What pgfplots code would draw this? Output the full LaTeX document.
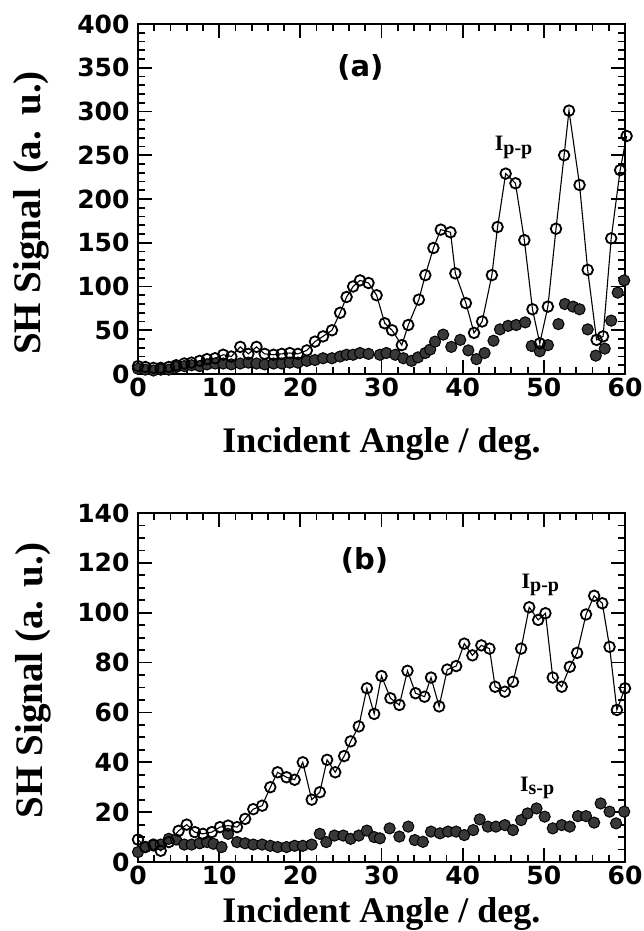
\documentclass[border=0pt]{standalone}
\usepackage{fontspec}
\setmainfont{Liberation Serif}
\newfontfamily\tickfont{DejaVu Sans}
\usepackage{pgfplots}
\pgfplotsset{compat=1.18}

% one unit = one pixel of the reference (644 x 931)
\pgfplotsset{
  panel/.style={
    scale only axis, width=487pt,
    xmin=0, xmax=60, xtick={0,10,...,60}, minor x tick num=4,
    axis line style={line width=2.5pt},
    major tick length=14pt, minor tick length=7pt,
    tick style={line width=1.8pt, black},
    tick align=inside,
    ticklabel style={font=\tickfont\bfseries\fontsize{25}{25}\selectfont},
    yticklabel style={xshift=-5pt},
    /pgf/number format/assume math mode=true,
    clip=false,
  },
  openser/.style={black, line width=1.1pt, mark=o, mark size=5.3pt,
    mark options={line width=1.8pt, solid}},
  fullser/.style={only marks, mark=*, mark size=5.6pt,
    mark options={fill=black!78, draw=black, line width=1pt}},
}

\pgfplotstableread{
x y
0 9
0.9 8
1.9 7
2.8 7
3.8 8
4.7 10
5.7 12
6.6 13
7.6 15
8.5 17
9.5 18
10.5 22
11.5 20
12.6 31
13.6 23
14.6 31
15.6 23
16.7 22
17.7 23
18.7 24
19.7 23
20.8 27
21.8 37
22.8 43
23.9 50
24.9 70
25.7 88
26.5 100
27.35 107
28.4 104
29.4 90
30.4 58
31.3 50
32.5 33
33.3 56
34.6 85
35.4 113
36.4 144
37.3 165
38.5 162
39.1 115
40.4 81
41.4 47
42.4 60
43.6 113
44.3 168
45.3 229
46.5 218
47.6 153
48.6 74
49.5 35
50.5 77
51.5 166
52.5 250
53.1 301
54.4 216
55.4 119
56.5 39
57.3 43
58.3 155
59.4 233
60.2 272
}\ppa

\pgfplotstableread{
x y
0 6
0.9 5
1.9 4
2.8 5
3.8 5
4.7 8
5.7 9
6.6 10
7.6 9
8.5 11
9.5 12
10.5 12
11.5 11
12.6 12
13.6 13
14.6 12
15.6 11
16.7 12
17.7 12
18.7 13
19.7 13
20.8 15
21.8 16
22.8 18
23.9 18
24.9 20
25.7 22
26.5 22
27.35 24
28.4 23
29.8 22
30.6 24
31.7 22
32.7 18
33.7 15
34.5 19
35.4 24
36.0 28
36.6 37
37.6 45
38.6 31
39.7 39
40.7 27
41.7 17
42.7 24
43.8 38
44.6 51
45.6 55
46.6 56
47.7 59
48.5 32
49.5 26
50.5 33
51.8 57
52.6 80
53.6 77
54.4 74
55.4 51
56.4 21
57.5 29
58.3 61
59.1 93
59.9 107
}\spa

\pgfplotstableread{
x y
0 9
0.9 6
1.9 7
2.8 4.5
3.8 8
5.0 12.5
6.0 15
7.0 12
8.0 11.3
9.1 12
10.1 14
11.1 14.6
12.2 14
13.2 17.3
14.2 21.2
15.3 22.6
16.3 30
17.2 36
18.3 34
19.3 33
20.3 40
21.4 25
22.4 28
23.3 41
24.3 36
25.4 42.5
26.2 48.4
27.2 54.4
28.2 69.7
29.1 59.4
30.0 74.6
31.1 65.7
32.2 63
33.2 76.7
34.2 67.7
35.3 66.3
36.1 74
37.1 62.4
38.1 77.2
39.2 78.6
40.2 87.6
41.2 82.9
42.3 86.9
43.3 85.6
44.0 70.3
45.2 68.3
46.2 72.3
47.2 85.6
48.2 102.2
49.3 97.1
50.2 99.8
51.1 74
52.2 70.3
53.2 78.3
54.1 83.9
55.2 99.3
56.2 106.8
57.2 103.8
58.1 86.3
59.0 61
60.0 69.7
}\ppb

\pgfplotstableread{
x y
0 4
0.9 6
1.9 6.6
2.8 7
3.8 9.3
4.7 9
5.7 7
6.6 7
7.6 7.5
8.5 8
9.3 7.3
10.3 6
11.1 11.3
12.2 8
13.2 7.5
14.2 7
15.3 7
16.3 6.5
17.2 6
18.3 6
19.3 6.5
20.3 6.5
21.4 7
22.4 11.3
23.2 8
24.2 10.6
25.3 10.6
26.2 9.3
27.2 10.6
28.2 12.6
29.1 10
29.8 9.5
31.0 13.5
32.2 10.2
33.3 14.2
34.1 8.8
35.1 8.1
36.1 12.2
37.2 11.5
38.2 12.2
39.2 12.2
40.2 10.8
41.3 12.8
42.1 17.1
43.1 14.2
44.1 14.2
45.2 14.8
46.2 12.8
47.2 16.8
48.0 19.5
49.1 21.5
50.1 18.2
51.1 13.5
52.2 14.8
53.2 14.2
54.2 18.4
55.2 18.4
56.2 15.8
57.0 23.5
58.1 20.2
58.9 15.5
59.9 20.2
}\spb

\begin{document}
\begin{tikzpicture}
\path[use as bounding box] (0,0) rectangle (644pt,-931pt);

% (a)
\begin{axis}[panel, at={(138pt,-374pt)}, anchor=south west, height=350pt,
    ymin=0, ymax=400, ytick={0,50,...,400}, minor y tick num=4,
    xlabel={Incident Angle / deg.},
    ylabel={SH Signal\hspace{0.4em}(a.\hspace{0.4em}u.)},
    every axis x label/.style={at={(axis description cs:0.5,0)}, anchor=base,
      yshift=-78pt, font=\bfseries\fontsize{36}{36}\selectfont},
    every axis y label/.style={at={(axis description cs:-0.220,0.46)}, rotate=90,
      anchor=center, font=\bfseries\fontsize{39}{39}\selectfont},
  ]
  \addplot[fullser] table[x=x,y=y] {\spa};
  \addplot[openser] table[x=x,y=y] {\ppa};
  \node[font=\tickfont\bfseries\fontsize{29}{29}\selectfont] at (axis cs:27.4,350) {(a)};
  \node[font=\bfseries\fontsize{22}{22}\selectfont] at (axis cs:46.3,259) {I\textsubscript{\fontsize{20}{20}\selectfont p-p}};
\end{axis}

% (b)
\begin{axis}[panel, at={(138pt,-862pt)}, anchor=south west, height=349pt,
    ymin=0, ymax=140, ytick={0,20,...,140}, minor y tick num=3,
    xlabel={Incident Angle / deg.},
    ylabel={SH Signal (a. u.)},
    every axis x label/.style={at={(axis description cs:0.5,0)}, anchor=base,
      yshift=-60pt, font=\bfseries\fontsize{36}{36}\selectfont},
    every axis y label/.style={at={(axis description cs:-0.216,0.52)}, rotate=90,
      anchor=center, font=\bfseries\fontsize{39}{39}\selectfont},
  ]
  \addplot[fullser] table[x=x,y=y] {\spb};
  \addplot[openser] table[x=x,y=y] {\ppb};
  \node[font=\tickfont\bfseries\fontsize{29}{29}\selectfont] at (axis cs:27.9,121) {(b)};
  \node[font=\bfseries\fontsize{22}{22}\selectfont] at (axis cs:49.6,111) {I\textsubscript{\fontsize{20}{20}\selectfont p-p}};
  \node[font=\bfseries\fontsize{22}{22}\selectfont] at (axis cs:49.2,29.7) {I\textsubscript{\fontsize{20}{20}\selectfont s-p}};
\end{axis}
\end{tikzpicture}
\end{document}
